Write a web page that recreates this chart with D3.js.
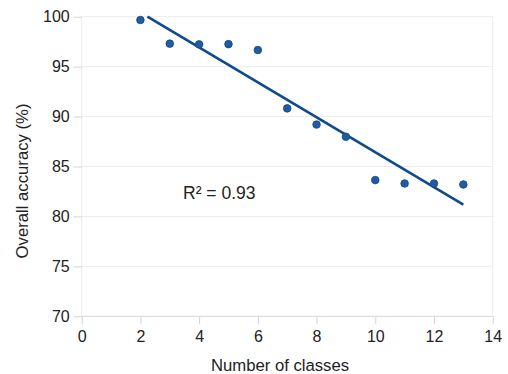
<!DOCTYPE html>
<html>
<head>
<meta charset="utf-8">
<script src="https://cdn.jsdelivr.net/npm/d3@7"></script>
<style>
body { margin: 0; background: #fff; }
text { font-family: "Liberation Sans", Arial, sans-serif; fill: #222; }
</style>
</head>
<body>
<div id="chart"></div>
<script>
var classes = [2, 3, 4, 5, 6, 7, 8, 9, 10, 11, 12, 13];
var accuracy = [99.67, 97.3, 97.23, 97.25, 96.66, 90.82, 89.2, 87.98, 83.64, 83.3, 83.3, 83.2];
var xTicks = [0, 2, 4, 6, 8, 10, 12, 14];
var yTicks = [70, 75, 80, 85, 90, 95, 100];
var r2Label = "R\u00b2 = 0.93";

var width = 508, height = 374;
var margin = {left: 81.7, right: 15.3, top: 16.7, bottom: 57.7};

var svg = d3.select("#chart").append("svg").attr("width", width).attr("height", height);

var x = d3.scaleLinear().domain([0, 14]).range([margin.left, width - margin.right]);
var y = d3.scaleLinear().domain([70, 100]).range([height - margin.bottom, margin.top]);

// grid
svg.selectAll(".hgrid").data(yTicks).enter().append("line")
	.attr("x1", x(0)).attr("x2", x(14))
	.attr("y1", function(d){ return y(d); }).attr("y2", function(d){ return y(d); })
	.attr("stroke", function(d){ return d == 70 ? "#d4d4d4" : "#ececec"; }).attr("stroke-width", 1);
svg.append("line").attr("x1", x(0)).attr("x2", x(0)).attr("y1", y(100)).attr("y2", y(70))
	.attr("stroke", "#ececec");
svg.append("line").attr("x1", x(14)).attr("x2", x(14)).attr("y1", y(100)).attr("y2", y(70))
	.attr("stroke", "#ececec");

// axes
var xAxis = svg.append("g").attr("transform", "translate(0," + y(70) + ")")
	.call(d3.axisBottom(x).tickValues(xTicks).tickSize(8).tickPadding(6));
var yAxis = svg.append("g").attr("transform", "translate(" + x(0) + ",0)")
	.call(d3.axisLeft(y).tickValues(yTicks).tickSize(8).tickPadding(4));
[xAxis, yAxis].forEach(function(g)
{
	g.select(".domain").remove();
	g.selectAll(".tick line").attr("stroke", "#d4d4d4");
	g.selectAll(".tick text").attr("font-size", 16).style("fill", "#222")
		.attr("font-family", "Liberation Sans, Arial, sans-serif");
});

// linear trend line (least squares), clipped to the plot
var mx = d3.mean(classes), my = d3.mean(accuracy);
var sxy = 0, sxx = 0;
for(var i=0;i<classes.length;i++)
{
	sxy += (classes[i]-mx)*(accuracy[i]-my);
	sxx += (classes[i]-mx)*(classes[i]-mx);
}
var slope = sxy/sxx, icpt = my - slope*mx;
var x0 = classes[0], x1 = classes[classes.length-1];
if(icpt + slope*x0 > 100) x0 = (100 - icpt)/slope;
svg.append("line")
	.attr("x1", x(x0)).attr("y1", y(icpt + slope*x0))
	.attr("x2", x(x1)).attr("y2", y(icpt + slope*x1))
	.attr("stroke", "#0f4a8c").attr("stroke-width", 2.6);

// points
svg.selectAll(".pt").data(classes).enter().append("circle")
	.attr("cx", function(d){ return x(d); })
	.attr("cy", function(d, i){ return y(accuracy[i]); })
	.attr("r", 3.8)
	.attr("fill", "#1f5ca3").attr("stroke", "#14467f").attr("stroke-width", 0.8);

svg.append("text").attr("x", 183).attr("y", 199).attr("font-size", 17.5).text(r2Label);

svg.append("text").attr("x", 280).attr("y", 370.5).attr("text-anchor", "middle")
	.attr("font-size", 16.7).text("Number of classes");
svg.append("text").attr("transform", "translate(28," + 181 + ") rotate(-90)")
	.attr("text-anchor", "middle").attr("font-size", 16.7).text("Overall accuracy (%)");
</script>
</body>
</html>
